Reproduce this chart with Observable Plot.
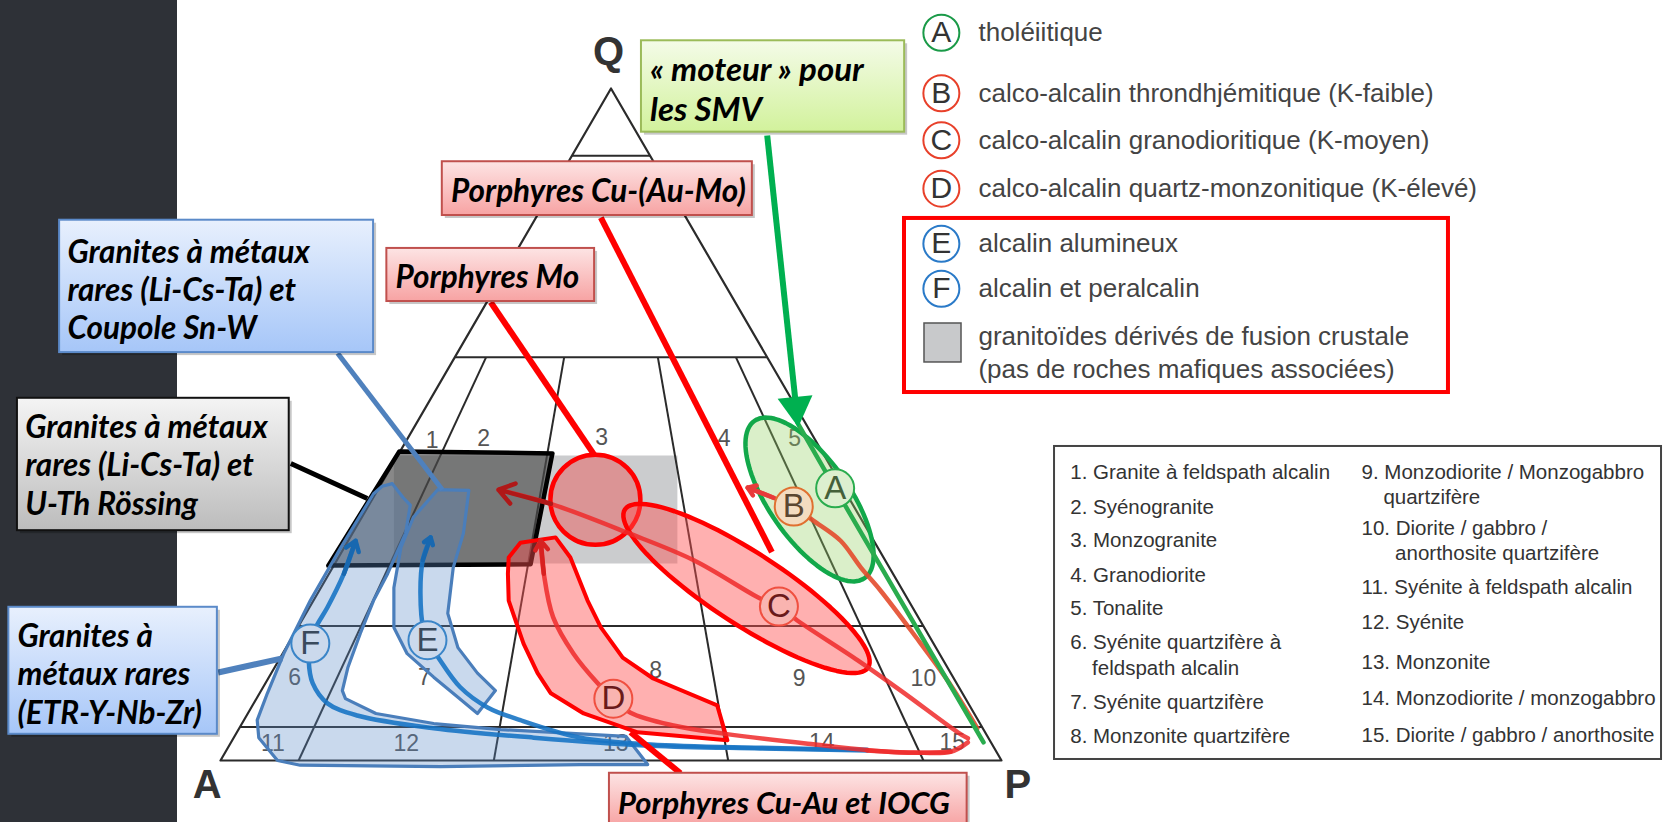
<!DOCTYPE html>
<html><head><meta charset="utf-8">
<script src="https://cdn.jsdelivr.net/npm/d3@7"></script>
<script src="https://cdn.jsdelivr.net/npm/@observablehq/plot@0.6"></script>
<style>
html,body{margin:0;padding:0;width:1664px;height:822px;overflow:hidden;
 background:linear-gradient(to right,#2e3137 0,#2e3137 177px,#ffffff 177px);}
#chart svg{display:block;}
</style></head><body><div id="chart"></div>
<script>
// ===== DATA (diagram units: u = position along A→P base in %, v = Q %) =====
const vertexNames = ["A", "P", "Q"];
const vertexU = [0, 100, 50];
const vertexV = [0, 0, 100];
const qLevels = [90, 60, 20, 5];          // horizontal Q boundaries (%)
const pRatios = [10, 35, 65, 90];         // 100·P/(A+P) boundaries

const fieldNo = ["1","2","3","4","5","6","7","8","9","10","11","12","13","14","15"];
const fieldU = [27.1,33.7,48.8,64.5,73.5, 9.5,26.1,55.7,74.1,90.0, 6.7,23.8,50.6,77.0,93.7];
const fieldV = [47.6,47.9,48.1,47.9,47.9, 12.4,12.4,13.4,12.2,12.2, 2.5,2.5,2.5,2.7,2.7];

const grayBand = [[22.2,45.4],[58.5,45.4],[58.5,29.3],[22.2,29.3]];
const darkBox  = [[22.9,46.0],[42.5,45.7],[39.7,29.2],[13.8,29.0]];

const bandF = [[22.0,41.2],[20.7,40.8],[19.6,39.7],[15.4,31.7],[11.5,23.8],[8.1,15.9],[6.0,10.0],[4.7,6.0],[4.9,3.4],[7.3,0],[10.2,-0.7],[28.2,-0.9],[46.1,-0.6],[54.7,-0.6],[51.9,3.6],[35.9,4.6],[27.3,5.5],[19.9,7.0],[16.0,9.2],[15.6,10.4],[16.3,13.8],[17.9,18.9],[19.6,23.8],[21.4,27.8],[23.7,33.8],[24.3,38.0],[23.4,39.1]];
const bandE = [[27.8,40.3],[31.8,40.2],[31.1,33.8],[29.8,28.7],[29.1,21.9],[30.4,16.8],[32.9,13.0],[35.2,10.4],[32.9,7.0],[30.4,9.4],[27.3,12.4],[23.9,15.9],[22.2,19.8],[22.2,25.7],[23.1,31.7],[24.7,36.2],[26.9,39.1]];
const bandD = [[38.4,32.4],[42.9,33.2],[44.8,30.2],[47.0,23.8],[48.7,19.8],[51.5,15.3],[55.4,12.2],[63.6,8.2],[64.9,3.0],[53.4,4.2],[46.5,7.0],[42.3,10.0],[40.6,13.0],[38.8,17.4],[36.9,23.8],[36.8,27.8],[36.9,30.2]];

// ellipses: centre, end of major axis, end of minor axis
const ellipseC = {c:[67.35,25.60], m:[82.92,13.84], n:[69.86,30.09]};
const ellipseA = {c:[75.42,38.84], m:[82.47,27.14], n:[79.62,42.26]};
const circleMo = [{u:48.0, v:38.8}];

// differentiation trends (first point = arrow tip)
const trendF = [[17.3,32.7],[15.8,27.8],[13.7,22.8],[12.2,19.8],[11.5,17.4],[11.3,14.9],[11.8,11.5],[13.7,8.5],[17.5,6.7],[27.3,4.8],[40.1,3.4],[55.1,2.2],[69.1,1.8],[82.8,1.5]];
const trendE = [[26.9,33.2],[25.9,29.8],[25.6,24.9],[26.0,19.4],[26.5,17.9],[27.9,15.3],[30.7,10.9],[34.2,7.9],[38.4,6.0],[46.1,3.4],[55.1,2.4],[69.1,1.9],[82.8,1.6]];
const trendEFend = [[82.8,1.5],[88.7,1.2],[93.5,1.3],[95.7,2.7]];
const trendD = [[41.0,32.7],[41.4,27.8],[42.6,21.3],[45.2,15.9],[48.3,11.5],[50.3,9.2],[52.5,7.1],[58.0,5.2],[64.4,4.0],[75.2,2.5],[87.1,1.2],[93.5,1.3]];
const trendC = [[35.6,40.3],[42.3,38.2],[52.1,33.9],[60.6,29.8],[69.1,24.1],[71.5,22.9],[73.9,20.8],[81.6,14.9],[87.1,10.4],[94.4,4.2],[95.7,3.3]];
const trendB = [[67.5,40.6],[70.8,39.1],[73.4,37.8],[75.9,35.7],[79.4,32.7],[82.0,28.7],[84.5,25.3],[88.7,18.9],[93.1,11.9],[96.9,4.8]];
const trendA = [[73.9,50.2],[78.7,40.5],[97.7,2.7]];
const smvArrow = [[70.0,93.0],[73.7,52.6]];   // from the "moteur" box to the tholeiitic trend

const seriesLetters = ["A","B","C","D","E","F"];
const seriesU = [78.7,73.4,71.5,50.3,26.5,11.5];
const seriesV = [40.5,37.8,22.9,9.2,17.9,17.4];

const legendLabels = ["tholéiitique","calco-alcalin throndhjémitique (K-faible)","calco-alcalin granodioritique (K-moyen)","calco-alcalin quartz-monzonitique (K-élevé)","alcalin alumineux","alcalin et peralcalin"];
const crustalLabel = "granitoïdes dérivés de fusion crustale\n(pas de roches mafiques associées)";

const rockCol1 = ["1. Granite à feldspath alcalin","2. Syénogranite","3. Monzogranite","4. Granodiorite","5. Tonalite","6. Syénite quartzifère à","feldspath alcalin","7. Syénite quartzifère","8. Monzonite quartzifère"];
const rockCol2 = ["9. Monzodiorite / Monzogabbro","quartzifère","10. Diorite / gabbro /","anorthosite quartzifère","11. Syénite à feldspath alcalin","12. Syénite","13. Monzonite","14. Monzodiorite / monzogabbro","15. Diorite / gabbro / anorthosite"];

const boxTexts = ["Granites à métaux\nrares (Li-Cs-Ta) et\nCoupole Sn-W","Granites à métaux\nrares (Li-Cs-Ta) et\nU-Th Rössing","Granites à\nmétaux rares\n(ETR-Y-Nb-Zr)","Porphyres Mo","Porphyres Cu-(Au-Mo)","« moteur » pour\nles SMV","Porphyres Cu-Au et IOCG"];

// ===== LAYOUT (positions in diagram units, styles) =====
const boxLayout = [
 {x1:-20.6,x2:19.6,y1:60.7,y2:80.4,tx:-19.6,ty:70.2,fill:"url(#gBlue)",stroke:"#5b8ac9",fs:31.5},
 {x1:-26.0,x2:8.8,y1:34.2,y2:53.9,tx:-25.0,ty:44.1,fill:"url(#gGray)",stroke:"#111",fs:31.5},
 {x1:-27.1,x2:-0.4,y1:3.9,y2:22.8,tx:-26.0,ty:13.0,fill:"url(#gBlue)",stroke:"#5b8ac9",fs:31.5},
 {x1:21.3,x2:47.9,y1:68.3,y2:76.2,tx:22.4,ty:72.1,fill:"url(#gRed)",stroke:"#c0504d",fs:31.5},
 {x1:28.4,x2:68.1,y1:81.1,y2:89.1,tx:29.5,ty:85.0,fill:"url(#gRed)",stroke:"#c0504d",fs:31.5},
 {x1:53.9,x2:87.6,y1:93.5,y2:107.1,tx:55.0,ty:100.1,fill:"url(#gGreen)",stroke:"#9bbb59",fs:33},
 {x1:49.8,x2:95.6,y1:-9.8,y2:-1.9,tx:50.9,ty:-6.1,fill:"url(#gRed)",stroke:"#c0504d",fs:31}
].map((d,i)=>({...d,text:boxTexts[i]}));

const connectors = [
 {x1:15.0,y1:60.6,x2:28.4,y2:40.3,c:"#4f81bd",w:5},
 {x1:9.0,y1:44.2,x2:18.8,y2:39.0,c:"#000",w:5},
 {x1:-0.3,y1:13.1,x2:7.9,y2:15.2,c:"#4f81bd",w:6},
 {x1:34.6,y1:68.2,x2:47.9,y2:45.4,c:"#ff0000",w:6},
 {x1:48.7,y1:80.8,x2:70.6,y2:31.0,c:"#ff0000",w:6},
 {x1:52.5,y1:4.2,x2:58.9,y2:-1.9,c:"#ff0000",w:6}
];

const vertexLabelU = [-1.7, 102.1, 49.7];
const vertexLabelV = [-3.7, -3.7, 105.4];

const legendRowV = [108.3, 99.3, 92.3, 85.1, 76.9, 70.2];
const legendCircleU = 92.3, legendTextU = 97.05;
const legendStroke = ["#1a9a48","#e8402a","#e8402a","#e8402a","#2a7ac8","#2a7ac8"];
const rockCol1V = [42.86,37.65,32.74,27.53,22.62,17.56,13.69,8.63,3.57];
const rockCol1U = [108.8,108.8,108.8,108.8,108.8,108.8,111.6,108.8,108.8];
const rockCol2V = [42.86,39.14,34.52,30.80,25.74,20.54,14.58,9.23,3.72];
const rockCol2U = [146.1,148.9,146.1,150.4,146.1,146.1,146.1,146.1,146.1];

const seriesStroke = ["#2aac4e","#e07030","#f05040","#f05040","#3a85c8","#3a85c8"];
const seriesFill   = ["#dcefcf","#f3dcc0","#f9b4b0","#f9b4b0","#cbd9ec","#cbd9ec"];
const seriesInk    = ["#44603a","#5a4630","#6a1a1a","#6a1a1a","#3a4a5c","#3a4a5c"];

// ===== helpers =====
const tern = (q, r) => [q/2 + (100-q)*r/100, q];
const hSegs = qLevels.map(q => { const a = tern(q,0), b = tern(q,100); return {x1:a[0],y1:a[1],x2:b[0],y2:b[1]}; });
const rSegs = pRatios.map(r => { const a = tern(60,r), b = tern(0,r); return {x1:a[0],y1:a[1],x2:b[0],y2:b[1]}; });
const triangle = vertexNames.map((n,i)=>[vertexU[i],vertexV[i]]);
function ellipsePts(e, n=96){
  const pts=[];
  for(let i=0;i<n;i++){const t=2*Math.PI*i/n, c=Math.cos(t), s=Math.sin(t);
    pts.push([e.c[0]+c*(e.m[0]-e.c[0])+s*(e.n[0]-e.c[0]), e.c[1]+c*(e.m[1]-e.c[1])+s*(e.n[1]-e.c[1])]);}
  return pts;
}
const X = d=>d[0], Y = d=>d[1];
const poly = (data, o) => Plot.line(data, {x:X, y:Y, curve:"linear-closed", ...o});
const trend = (data, o) => Plot.line(data, {x:X, y:Y, curve:"catmull-rom", strokeWidth:4.5, ...o});
const tip = (data, o) => Plot.arrow([0], {x1:()=>data[1][0], y1:()=>data[1][1], x2:()=>data[0][0], y2:()=>data[0][1], headLength:13, headAngle:70, strokeWidth:4.5, ...o});

const boxFont = {fontFamily:"Lato, 'Open Sans', sans-serif", fontWeight:"bold", fontStyle:"italic", lineHeight:1.22, textAnchor:"start", fill:"#000"};
const sans = "'Liberation Sans', Arial, Helvetica, sans-serif";

const svg = Plot.plot({
  width:1664, height:822, margin:0,
  style:{background:"transparent", overflow:"visible"},
  x:{domain:[0,100], range:[220,1001], axis:null},
  y:{domain:[0,100], range:[760,88], axis:null},
  marks:[
    poly(grayBand, {fill:"#a0a2a6", fillOpacity:0.55, stroke:"none"}),
    Plot.link(hSegs, {x1:"x1",y1:"y1",x2:"x2",y2:"y2", stroke:"#2b2b2b", strokeWidth:2}),
    Plot.link(rSegs, {x1:"x1",y1:"y1",x2:"x2",y2:"y2", stroke:"#2b2b2b", strokeWidth:2}),
    poly(triangle, {stroke:"#2b2b2b", strokeWidth:2.2}),
    Plot.text(fieldNo, {x:(d,i)=>fieldU[i], y:(d,i)=>fieldV[i], text:d=>d, fontSize:23, fontFamily:sans, fill:"#555"}),
    Plot.text(vertexNames, {x:(d,i)=>vertexLabelU[i], y:(d,i)=>vertexLabelV[i], text:d=>d, fontSize:40, fontWeight:"bold", fontFamily:sans, fill:"#333"}),
    poly(darkBox, {fill:"#4a4a4a", fillOpacity:0.66, stroke:"#000", strokeWidth:4.5}),
    poly(bandF, {fill:"#5a8cc8", fillOpacity:0.33, stroke:"#4a7ebb", strokeWidth:3.2}),
    poly(bandE, {fill:"#5a8cc8", fillOpacity:0.33, stroke:"#4a7ebb", strokeWidth:3.2}),
    poly(bandD, {fill:"#ff5050", fillOpacity:0.45, stroke:"#ff0000", strokeWidth:4}),
    Plot.dot(circleMo, {x:"u", y:"v", r:45, fill:"#f05050", fillOpacity:0.45, stroke:"#ff0000", strokeWidth:4.5}),
    poly(ellipsePts(ellipseC), {fill:"#ff5050", fillOpacity:0.45, stroke:"#ff0000", strokeWidth:4.5}),
    poly(ellipsePts(ellipseA), {fill:"#96d264", fillOpacity:0.35, stroke:"#12a84a", strokeWidth:4.5}),
    trend(trendF, {stroke:"#1874c4", strokeOpacity:0.9}),
    trend(trendE, {stroke:"#1874c4", strokeOpacity:0.9}),
    trend(trendEFend, {stroke:"#ee2a2a", strokeOpacity:0.85}),
    trend(trendD, {stroke:"#ee2a2a", strokeOpacity:0.85}),
    trend(trendC, {stroke:"#ee2a2a", strokeOpacity:0.85}),
    trend(trendB, {stroke:"#e34b2c", strokeOpacity:0.9}),
    Plot.line(trendA, {x:X, y:Y, stroke:"#2aac4e", strokeWidth:4.5}),
    tip(trendF, {stroke:"#1868b0"}),
    tip(trendE, {stroke:"#1868b0"}),
    tip(trendD, {stroke:"#d82020"}),
    tip(trendC, {stroke:"#b01818"}),
    tip(trendB, {stroke:"#e83a3a"}),
    Plot.dot(seriesLetters, {x:(d,i)=>seriesU[i], y:(d,i)=>seriesV[i], r:19, fill:(d,i)=>seriesFill[i], stroke:(d,i)=>seriesStroke[i], strokeWidth:2}),
    Plot.text(seriesLetters, {x:(d,i)=>seriesU[i], y:(d,i)=>seriesV[i], text:d=>d, fontSize:33, fontFamily:sans, fill:(d,i)=>seriesInk[i]}),
    Plot.link(connectors, {x1:"x1",y1:"y1",x2:"x2",y2:"y2", stroke:d=>d.c, strokeWidth:d=>d.w, strokeLinecap:"butt"}),
    Plot.link([smvArrow], {x1:d=>d[0][0], y1:d=>d[0][1], x2:d=>d[1][0], y2:d=>d[1][1], stroke:"#00b050", strokeWidth:6, strokeLinecap:"butt"}),
    Plot.dot([smvArrow], {x:d=>d[1][0], y:d=>d[1][1], symbol:"triangle", r:13, rotate:174, fill:"#00b050", stroke:"none"}),
    Plot.rect(boxLayout, {x1:"x1",x2:"x2",y1:"y1",y2:"y2", fill:"#000", fillOpacity:0.22, dx:3, dy:3}),
    Plot.rect(boxLayout, {x1:"x1",x2:"x2",y1:"y1",y2:"y2", fill:"fill", stroke:"stroke", strokeWidth:2}),
    ...boxLayout.map(b => Plot.text([b], {x:"tx", y:"ty", text:"text", fontSize:b.fs, ...boxFont})),
    // legend (top right)
    Plot.rect([0], {x1:()=>87.58, x2:()=>157.23, y1:()=>54.76, y2:()=>80.66, fill:"none", stroke:"#ff0000", strokeWidth:4}),
    Plot.dot(seriesLetters, {x:()=>legendCircleU, y:(d,i)=>legendRowV[i], r:18, fill:"#fff", stroke:(d,i)=>legendStroke[i], strokeWidth:2}),
    Plot.text(seriesLetters, {x:()=>legendCircleU, y:(d,i)=>legendRowV[i], text:d=>d, fontSize:30, fontFamily:sans, fill:"#333"}),
    Plot.text(legendLabels, {x:()=>legendTextU, y:(d,i)=>legendRowV[i], text:d=>d, fontSize:26, fontFamily:sans, fill:"#444", textAnchor:"start"}),
    Plot.rect([0], {x1:()=>90.14, x2:()=>94.88, y1:()=>59.23, y2:()=>65.03, fill:"#c8c9cb", stroke:"#555", strokeWidth:1.5}),
    Plot.text([crustalLabel], {x:()=>legendTextU, y:()=>61.0, text:d=>d, fontSize:26, lineHeight:1.3, fontFamily:sans, fill:"#444", textAnchor:"start"}),
    // rock names box
    Plot.rect([0], {x1:()=>106.79, x2:()=>184.51, y1:()=>0.15, y2:()=>46.73, fill:"#fff", stroke:"#444", strokeWidth:2}),
    Plot.text(rockCol1, {x:(d,i)=>rockCol1U[i], y:(d,i)=>rockCol1V[i], text:d=>d, fontSize:20.5, fontFamily:sans, fill:"#333", textAnchor:"start"}),
    Plot.text(rockCol2, {x:(d,i)=>rockCol2U[i], y:(d,i)=>rockCol2V[i], text:d=>d, fontSize:20.5, fontFamily:sans, fill:"#333", textAnchor:"start"})
  ]
});
const defs = document.createElementNS("http://www.w3.org/2000/svg","defs");
defs.innerHTML = `
<linearGradient id="gBlue" x1="0" y1="0" x2="0" y2="1"><stop offset="0" stop-color="#e8f0fd"/><stop offset="1" stop-color="#a6c6f8"/></linearGradient>
<linearGradient id="gGray" x1="0" y1="0" x2="0" y2="1"><stop offset="0" stop-color="#f4f4f4"/><stop offset="1" stop-color="#bcbcbc"/></linearGradient>
<linearGradient id="gRed" x1="0" y1="0" x2="0" y2="1"><stop offset="0" stop-color="#fde4e4"/><stop offset="1" stop-color="#f7a3a3"/></linearGradient>
<linearGradient id="gGreen" x1="0" y1="0" x2="0" y2="1"><stop offset="0" stop-color="#f4fbe8"/><stop offset="1" stop-color="#d2f29c"/></linearGradient>`;
svg.insertBefore(defs, svg.firstChild);
document.getElementById("chart").appendChild(svg);
</script></body></html>
